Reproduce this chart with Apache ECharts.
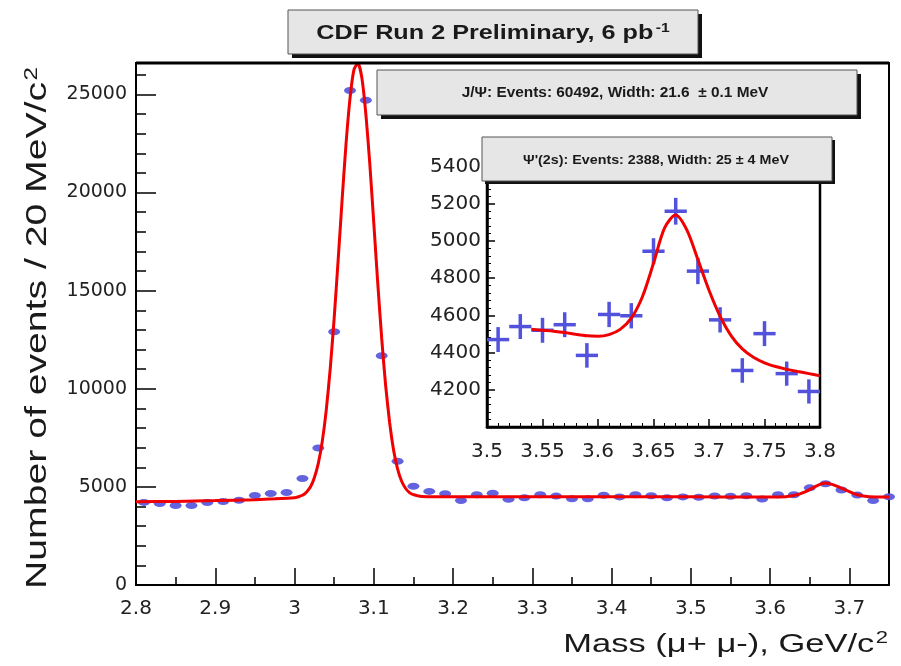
<!DOCTYPE html>
<html>
<head>
<meta charset="utf-8">
<script src="https://cdn.jsdelivr.net/npm/echarts@6/dist/echarts.min.js"></script>
<style>
  html, body { margin: 0; padding: 0; background: #fff; }
  #chart { width: 901px; height: 666px; }
</style>
</head>
<body>
<div id="chart"></div>
<script>
// Dimuon mass spectrum, 20 MeV/c^2 bins (bin centres in GeV/c^2)
const massMain = [2.81, 2.83, 2.85, 2.87, 2.89, 2.91, 2.93, 2.95, 2.97, 2.99,
  3.01, 3.03, 3.05, 3.07, 3.09, 3.11, 3.13, 3.15, 3.17, 3.19,
  3.21, 3.23, 3.25, 3.27, 3.29, 3.31, 3.33, 3.35, 3.37, 3.39,
  3.41, 3.43, 3.45, 3.47, 3.49, 3.51, 3.53, 3.55, 3.57, 3.59,
  3.61, 3.63, 3.65, 3.67, 3.69, 3.71, 3.73, 3.75];
const countsMain = [4210, 4150, 4050, 4050, 4200, 4250, 4320, 4560, 4660, 4710,
  5430, 6980, 12900, 25200, 24700, 11680, 6310, 5030, 4770, 4650,
  4310, 4600, 4680, 4370, 4440, 4600, 4530, 4390, 4390, 4570,
  4490, 4600, 4550, 4440, 4490, 4470, 4540, 4520, 4550, 4380,
  4600, 4600, 4950, 5160, 4840, 4580, 4300, 4500];

// Fitted J/psi + psi(2S) curve over the full range
const fitMainX = [2.80, 2.85, 2.90, 2.95, 2.975,
  3.000, 3.005, 3.010, 3.015, 3.020, 3.025, 3.030, 3.035, 3.040, 3.045,
  3.050, 3.055, 3.060, 3.065, 3.070, 3.075, 3.080, 3.085, 3.090, 3.095,
  3.100, 3.105, 3.110, 3.115, 3.120, 3.125, 3.130, 3.135, 3.140, 3.145,
  3.150, 3.155, 3.160, 3.20, 3.30, 3.40, 3.50, 3.58, 3.61, 3.63,
  3.645, 3.66, 3.67, 3.68, 3.695, 3.71, 3.725, 3.75];
const fitMainY = [4240, 4260, 4300, 4350, 4390,
  4450, 4500, 4570, 4730, 4990, 5470, 6200, 7320, 8900, 11000,
  13590, 16540, 19610, 22490, 24800, 26260, 26600, 25830, 24000, 21440,
  18440, 15380, 12550, 10150, 8270, 6870, 5920, 5300, 4930, 4710,
  4600, 4550, 4515, 4500, 4500, 4500, 4495, 4480, 4480, 4560,
  4760, 5080, 5200, 5100, 4850, 4600, 4500, 4490];

// psi(2S) region (inset)
const massInset = [3.51, 3.53, 3.55, 3.57, 3.59, 3.61, 3.63, 3.65, 3.67, 3.69,
  3.71, 3.73, 3.75, 3.77, 3.79];
const countsInset = [4470, 4540, 4520, 4550, 4385, 4605, 4598, 4945, 5160, 4838,
  4576, 4304, 4502, 4287, 4191];
const errInset = [67, 67, 67, 67, 66, 68, 68, 70, 72, 70, 68, 66, 67, 65, 65];

const fitInsetX = [3.54, 3.55, 3.56, 3.57, 3.58, 3.59, 3.60, 3.61, 3.62, 3.63,
  3.64, 3.65, 3.66, 3.67, 3.68, 3.69, 3.70, 3.71, 3.72, 3.73,
  3.74, 3.75, 3.76, 3.77, 3.78, 3.79, 3.80];
const fitInsetY = [4525, 4520, 4515, 4508, 4498, 4490, 4488, 4497, 4525, 4585,
  4700, 4880, 5070, 5140, 5060, 4900, 4735, 4595, 4490, 4420,
  4375, 4345, 4325, 4310, 4298, 4287, 4275];

const titleText = 'CDF Run 2 Preliminary, 6 pb{sup|-1}';
const jpsiText = 'J/Ψ: Events: 60492, Width: 21.6  ± 0.1 MeV';
const psi2sText = "Ψ'(2s): Events: 2388, Width: 25 ± 4 MeV";
const yTitle = 'Number of events / 20 MeV/c{sup|2}';
const xTitle = 'Mass (μ+ μ-), GeV/c{sup|2}';

const BLUE = '#5252dc';
const RED = '#f00000';
const HALF_BIN = 0.01;
const FONT = '"Liberation Sans", Arial, Helvetica, sans-serif';
const TICK_FONT = '"DejaVu Sans", sans-serif';

const pairs = (xs, ys) => xs.map((x, i) => [x, ys[i]]);
const plain = (v) => String(v);

function box(x, y, w, h, shadow, text, font, scaleX, cx, cy) {
  return {
    type: 'group', z: 100,
    children: [
      { type: 'rect', shape: { x: x + shadow, y: y + shadow, width: w, height: h }, style: { fill: '#111' }, z: 100 },
      { type: 'rect', shape: { x: x, y: y, width: w, height: h }, style: { fill: '#e6e6e6', stroke: '#555', lineWidth: 1 }, z: 101 },
      {
        type: 'text', x: cx, y: cy, scaleX: scaleX, z: 102,
        style: {
          text: text, fill: '#1a1a1a', font: font,
          textAlign: 'center', textVerticalAlign: 'middle', align: 'center', verticalAlign: 'middle',
          rich: { sup: { fontSize: 13, fontWeight: 'bold', fontFamily: FONT, verticalAlign: 'top', padding: [0, 0, 10, 2] } }
        }
      }
    ]
  };
}

const chart = echarts.init(document.getElementById('chart'), null, { renderer: 'canvas' });

chart.setOption({
  backgroundColor: '#fff',
  animation: false,
  grid: [
    { left: 136, top: 63, right: 12, bottom: 81, show: true, borderColor: '#000', borderWidth: 2, backgroundColor: '#fff' },
    { left: 487, top: 148, right: 81, bottom: 239, show: true, borderColor: '#000', borderWidth: 2.5, backgroundColor: '#fff', z: 5 }
  ],
  xAxis: [
    {
      type: 'value', gridIndex: 0, min: 2.8, max: 3.75, interval: 0.1,
      axisLine: { onZero: false, lineStyle: { color: '#000', width: 2 } },
      axisTick: { inside: true, length: 17, lineStyle: { color: '#000', width: 1.5 } },
      minorTick: { show: true, splitNumber: 2, length: 8, lineStyle: { color: '#000', width: 1.5 } },
      splitLine: { show: false },
      axisLabel: { showMaxLabel: false, margin: 14, color: '#222', fontSize: 20, fontFamily: TICK_FONT, formatter: plain }
    },
    {
      type: 'value', gridIndex: 1, min: 3.5, max: 3.8, interval: 0.05, z: 6,
      axisLine: { onZero: false, lineStyle: { color: '#000', width: 2.5 } },
      axisTick: { inside: true, length: 8, lineStyle: { color: '#000', width: 1.5 } },
      minorTick: { show: true, splitNumber: 5, length: 4, lineStyle: { color: '#000', width: 1 } },
      splitLine: { show: false },
      axisLabel: { margin: 15, color: '#222', fontSize: 20, fontFamily: TICK_FONT, formatter: plain }
    }
  ],
  yAxis: [
    {
      type: 'value', gridIndex: 0, min: 0, max: 26600, interval: 5000,
      axisLine: { onZero: false, lineStyle: { color: '#000', width: 2 } },
      axisTick: { inside: true, length: 20, lineStyle: { color: '#000', width: 1.5 } },
      minorTick: { show: true, splitNumber: 5, length: 10, lineStyle: { color: '#000', width: 1.5 } },
      splitLine: { show: false },
      axisLabel: { showMaxLabel: false, margin: 9, color: '#222', fontSize: 19, fontFamily: TICK_FONT, formatter: plain }
    },
    {
      type: 'value', gridIndex: 1, min: 4000, max: 5500, interval: 200, z: 6,
      axisLine: { onZero: false, lineStyle: { color: '#000', width: 2.5 } },
      axisTick: { inside: true, length: 8, lineStyle: { color: '#000', width: 1.5 } },
      minorTick: { show: true, splitNumber: 5, length: 4, lineStyle: { color: '#000', width: 1 } },
      splitLine: { show: false },
      axisLabel: { showMinLabel: false, showMaxLabel: false, margin: 6, color: '#222', fontSize: 20, fontFamily: TICK_FONT, formatter: plain }
    }
  ],
  series: [
    {
      name: 'data', type: 'scatter', xAxisIndex: 0, yAxisIndex: 0,
      data: pairs(massMain, countsMain),
      symbol: 'circle', symbolSize: [12, 7],
      itemStyle: { color: BLUE, opacity: 0.9 }, z: 2
    },
    {
      name: 'fit', type: 'line', xAxisIndex: 0, yAxisIndex: 0,
      data: pairs(fitMainX, fitMainY),
      showSymbol: false, smooth: 0.2,
      lineStyle: { color: RED, width: 3 }, z: 3
    },
    {
      name: 'data (2S)', type: 'custom', xAxisIndex: 1, yAxisIndex: 1,
      data: massInset.map((m, i) => [m, countsInset[i], errInset[i]]),
      z: 7,
      renderItem: function (params, api) {
        const x = api.value(0), y = api.value(1), e = api.value(2);
        const l = api.coord([x - HALF_BIN, y]);
        const r = api.coord([x + HALF_BIN, y]);
        const t = api.coord([x, y + e]);
        const b = api.coord([x, y - e]);
        const st = { stroke: BLUE, lineWidth: 3.5 };
        return {
          type: 'group',
          children: [
            { type: 'line', shape: { x1: l[0], y1: l[1], x2: r[0], y2: r[1] }, style: st },
            { type: 'line', shape: { x1: t[0], y1: t[1], x2: b[0], y2: b[1] }, style: st }
          ]
        };
      }
    },
    {
      name: 'fit (2S)', type: 'line', xAxisIndex: 1, yAxisIndex: 1,
      data: pairs(fitInsetX, fitInsetY),
      showSymbol: false, smooth: 0.3,
      lineStyle: { color: RED, width: 3 }, z: 8
    }
  ],
  graphic: [
    // thick upper frame edge
    { type: 'line', z: 50, shape: { x1: 136, y1: 63, x2: 889, y2: 63 }, style: { stroke: '#000', lineWidth: 3 } },
    box(288, 10, 410, 44, 4, titleText, 'bold 21px ' + FONT, 1.2, 493, 33),
    box(377, 70, 480, 45, 4, jpsiText, 'bold 14px ' + FONT, 1.1, 615, 93),
    box(482, 137, 350, 44, 3, psi2sText, 'bold 13px ' + FONT, 1.1, 656, 160),
    {
      type: 'text', x: 38, y: 328, rotation: Math.PI / 2, scaleX: 1.35, z: 60,
      style: {
        text: yTitle, fill: '#1a1a1a', font: '29px ' + FONT,
        textAlign: 'center', textVerticalAlign: 'middle', align: 'center', verticalAlign: 'middle',
        rich: { sup: { fontSize: 18, fontFamily: FONT, verticalAlign: 'top', padding: [0, 0, 12, 1] } }
      }
    },
    {
      type: 'text', x: 888, y: 645, scaleX: 1.38, z: 60,
      style: {
        text: xTitle, fill: '#1a1a1a', font: '25px ' + FONT,
        textAlign: 'right', textVerticalAlign: 'middle', align: 'right', verticalAlign: 'middle',
        rich: { sup: { fontSize: 16, fontFamily: FONT, verticalAlign: 'top', padding: [0, 0, 12, 1] } }
      }
    }
  ]
});
</script>
</body>
</html>
